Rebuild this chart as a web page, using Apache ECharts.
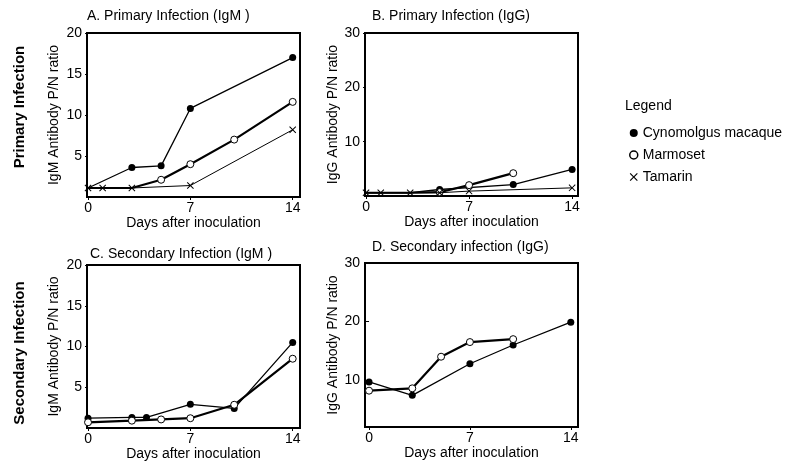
<!DOCTYPE html>
<html>
<head>
<meta charset="utf-8">
<script src="https://cdn.jsdelivr.net/npm/echarts@6/dist/echarts.min.js"></script>
<style>
  html, body { margin: 0; padding: 0; background: #fff; }
  #chart { width: 792px; height: 468px; }
</style>
</head>
<body>
<div id="chart"></div>
<script>
// days after inoculation, P/N ratio
const cynoA = [[0, 1.1], [3, 3.6], [5, 3.8], [7, 10.8], [14, 17.0]];
const marmA = [[0, 1.1], [3, 1.1], [5, 2.1], [7, 4.0], [10, 7.0], [14, 11.6]];
const tamA = [[0, 1.1], [1, 1.1], [3, 1.1], [7, 1.4], [14, 8.2]];

const cynoB = [[0, 0.6], [1, 0.6], [3, 0.6], [5, 1.2], [10, 2.1], [14, 4.9]];
const marmB = [[0, 0.6], [1, 0.6], [3, 0.6], [5, 0.7], [7, 2.0], [10, 4.2]];
const tamB = [[0, 0.6], [1, 0.6], [3, 0.6], [5, 0.6], [7, 0.9], [14, 1.5]];

const cynoC = [[0, 1.2], [3, 1.3], [4, 1.3], [7, 2.9], [10, 2.4], [14, 10.5]];
const marmC = [[0, 0.7], [3, 0.9], [5, 1.05], [7, 1.2], [10, 2.85], [14, 8.5]];

const cynoD = [[0, 9.7], [3, 7.4], [7, 12.8], [10, 16.0], [14, 19.9]];
const marmD = [[0, 8.2], [3, 8.6], [5, 14.0], [7, 16.5], [10, 17.0]];

const xTicks = [0, 7, 14];
const yTicksIgM = [5, 10, 15, 20];
const yTicksIgG = [10, 20, 30];

const panelTitles = ["A. Primary Infection (IgM )", "B. Primary Infection (IgG)",
                     "C. Secondary Infection (IgM )", "D. Secondary infection (IgG)"];
const names = ["Cynomolgus macaque", "Marmoset", "Tamarin"];

const font = "Liberation Sans, Arial, sans-serif";
const crossPath = "path://M1,0L5,4L9,0L10,1L6,5L10,9L9,10L5,6L1,10L0,9L4,5L0,1Z";

const chart = echarts.init(document.getElementById("chart"));

// hide a marker where the tamarin cross sits on the same point
function hideShared(data, other) {
  return data.map(function (p) {
    const hit = other && other.some(function (q) { return q[0] === p[0] && q[1] === p[1]; });
    return hit ? { value: p, symbol: "none" } : p;
  });
}

const grids = [
  { left: 87, top: 33, width: 213, height: 164 },
  { left: 365, top: 33, width: 213, height: 163 },
  { left: 87, top: 265, width: 213, height: 163 },
  { left: 365, top: 263, width: 213, height: 164 }
].map(function (g) {
  return Object.assign({ show: true, borderColor: "#000", borderWidth: 2, backgroundColor: "#fff" }, g);
});

function xAx(gi, min, max) {
  return {
    type: "value", gridIndex: gi, min: min, max: max,
    axisLine: { show: false }, splitLine: { show: false },
    axisTick: { show: true, length: 3, customValues: xTicks, lineStyle: { color: "#000" } },
    axisLabel: { customValues: xTicks, color: "#000", fontSize: 14, fontFamily: font, margin: 4 },
    name: "Days after inoculation", nameLocation: "middle", nameGap: 13,
    nameTextStyle: { color: "#000", fontSize: 14, fontFamily: font }
  };
}

function yAx(gi, min, max, ticks, name, gap) {
  return {
    type: "value", gridIndex: gi, min: min, max: max,
    axisLine: { show: false }, splitLine: { show: false },
    axisTick: { show: true, length: 3, customValues: ticks, lineStyle: { color: "#000" } },
    axisLabel: { customValues: ticks, color: "#000", fontSize: 14, fontFamily: font, margin: 5 },
    name: name, nameLocation: "middle", nameGap: gap,
    nameTextStyle: { color: "#000", fontSize: 14, fontFamily: font }
  };
}

function cyno(gi, data, other) {
  return {
    name: names[0], type: "line", xAxisIndex: gi, yAxisIndex: gi, clip: false,
    data: hideShared(data, other), symbol: "circle", symbolSize: 7, z: 3,
    itemStyle: { color: "#000" }, lineStyle: { color: "#000", width: 1.3 }
  };
}
function marm(gi, data, other) {
  return {
    name: names[1], type: "line", xAxisIndex: gi, yAxisIndex: gi, clip: false,
    data: hideShared(data, other), symbol: "circle", symbolSize: 7, z: 4,
    itemStyle: { color: "#fff", borderColor: "#000", borderWidth: 1 },
    lineStyle: { color: "#000", width: 2.2 }
  };
}
function tam(gi, data) {
  return {
    name: names[2], type: "line", xAxisIndex: gi, yAxisIndex: gi, clip: false,
    data: data, symbol: crossPath, symbolSize: 7, z: 5,
    itemStyle: { color: "#000" }, lineStyle: { color: "#000", width: 1 }
  };
}

const option = {
  animation: false,
  textStyle: { fontFamily: font, color: "#000" },
  title: [
    { text: panelTitles[0], left: 87, top: 9 },
    { text: panelTitles[1], left: 372, top: 9 },
    { text: panelTitles[2], left: 90, top: 247 },
    { text: panelTitles[3], left: 372, top: 240 }
  ].map(function (t) {
    return Object.assign({ padding: 0, textStyle: { fontSize: 14, fontWeight: "normal", color: "#000", fontFamily: font } }, t);
  }),
  legend: {
    orient: "vertical", left: 624, top: 121, itemWidth: 8, itemHeight: 8, itemGap: 8,
    textStyle: { fontSize: 14, color: "#000", fontFamily: font },
    data: [
      { name: names[0], icon: "circle", itemStyle: { color: "#000" } },
      { name: names[1], icon: "circle", itemStyle: { color: "#fff", borderColor: "#000", borderWidth: 1.5 } },
      { name: names[2], icon: crossPath, itemStyle: { color: "#000" } }
    ]
  },
  graphic: [
    { type: "text", left: 625, top: 99, style: { text: "Legend", fontSize: 14, fontFamily: font, fill: "#000" } },
    { type: "text", x: 20, y: 107, rotation: Math.PI / 2,
      style: { text: "Primary Infection", fontSize: 15, fontWeight: "bold", fontFamily: font, fill: "#000", align: "center", verticalAlign: "middle" } },
    { type: "text", x: 20, y: 353, rotation: Math.PI / 2,
      style: { text: "Secondary Infection", fontSize: 15, fontWeight: "bold", fontFamily: font, fill: "#000", align: "center", verticalAlign: "middle" } }
  ],
  grid: grids,
  xAxis: [xAx(0, -0.07, 14.5), xAx(1, -0.07, 14.4), xAx(2, -0.07, 14.5), xAx(3, -0.28, 14.5)],
  yAxis: [
    yAx(0, 0, 20, yTicksIgM, "IgM Antibody P/N ratio", 26),
    yAx(1, 0, 30, yTicksIgG, "IgG Antibody P/N ratio", 21),
    yAx(2, 0, 20, yTicksIgM, "IgM Antibody P/N ratio", 26),
    yAx(3, 2, 30, yTicksIgG, "IgG Antibody P/N ratio", 21)
  ],
  series: [
    cyno(0, cynoA, tamA), marm(0, marmA, tamA), tam(0, tamA),
    cyno(1, cynoB, tamB), marm(1, marmB, tamB), tam(1, tamB),
    cyno(2, cynoC), marm(2, marmC),
    cyno(3, cynoD), marm(3, marmD)
  ]
};
chart.setOption(option);
</script>
</body>
</html>
